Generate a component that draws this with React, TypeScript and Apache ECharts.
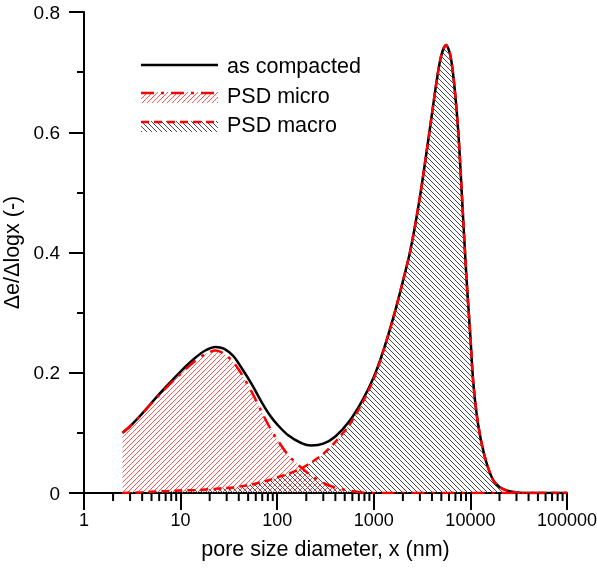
import React, { useEffect, useRef } from "react";
import * as echarts from "echarts";

// pore size diameter (nm)
const PORE_X = [2.5, 3, 4, 5, 7, 10, 14, 18, 23, 28, 35, 42, 55, 68, 85, 100, 130, 178, 226, 300, 400, 550, 750, 1000, 1250, 1600, 2000, 2400, 3000, 3800, 4500, 5000, 5600, 6200, 6800, 7500, 8200, 8800, 9300, 10000, 10700, 12000, 14000, 17000, 20000, 24000, 30000, 40000, 60000, 100000];

const AS_COMPACTED = [
  0.100, 0.111, 0.132, 0.150, 0.176,
  0.202, 0.224, 0.237, 0.243, 0.240,
  0.228, 0.210, 0.180, 0.153, 0.128,
  0.114, 0.096, 0.083, 0.079, 0.082,
  0.094, 0.118, 0.152, 0.193, 0.236,
  0.293, 0.352, 0.405, 0.492, 0.605,
  0.688, 0.728, 0.745, 0.728, 0.680,
  0.600, 0.490, 0.400, 0.335, 0.260,
  0.185, 0.115, 0.062, 0.023, 0.010,
  0.004, 0.001, 0, 0, 0,
];

const PSD_MICRO = [
  0.100, 0.111, 0.132, 0.149, 0.174,
  0.198, 0.219, 0.231, 0.237, 0.232,
  0.218, 0.200, 0.167, 0.137, 0.107,
  0.089, 0.063, 0.042, 0.029, 0.017,
  0.009, 0.004, 0.001, 0, 0,
  0, 0, 0, 0, 0,
  0, 0, 0, 0, 0,
  0, 0, 0, 0, 0,
  0, 0, 0, 0, 0,
  0, 0, 0, 0, 0,
];

const PSD_MACRO = [
  0, 0.0005, 0.001, 0.002, 0.003,
  0.004, 0.005, 0.006, 0.007, 0.008,
  0.009, 0.011, 0.014, 0.018, 0.022,
  0.026, 0.032, 0.041, 0.051, 0.065,
  0.085, 0.112, 0.148, 0.190, 0.235,
  0.293, 0.352, 0.405, 0.492, 0.605,
  0.688, 0.728, 0.745, 0.728, 0.680,
  0.600, 0.490, 0.400, 0.335, 0.260,
  0.185, 0.115, 0.062, 0.023, 0.010,
  0.004, 0.001, 0, 0, 0,
];

const X_DECADES = [1, 10, 100, 1000, 10000];
const MINOR_MULT = [2, 3, 4, 5, 6, 7, 8, 9];

const FONT = "'Liberation Sans', Arial, sans-serif";

function hatch(color: string, dir: "/" | "\\") {
  const n = 5;
  const c = document.createElement("canvas");
  c.width = n;
  c.height = n;
  const ctx = c.getContext("2d")!;
  ctx.fillStyle = color;
  for (let i = 0; i < n; i++) {
    ctx.fillRect(i, dir === "/" ? n - 1 - i : i, 1, 1);
  }
  return c;
}

export default function App() {
  const ref = useRef<HTMLDivElement>(null);
  useEffect(() => {
    if (!ref.current) return;
    const chart = echarts.init(ref.current, undefined, { renderer: "svg" });
    const redPat = { image: hatch("#ff5a5a", "/"), repeat: "repeat" };
    const grayPat = { image: hatch("#4a4a4a", "\\"), repeat: "repeat" };
    const pairs = (ys: number[]) => PORE_X.map((x, i) => [x, ys[i]]);
    const minor: number[][] = [];
    X_DECADES.forEach((d) => MINOR_MULT.forEach((m) => minor.push([d * m, 0])));

    const microDash = [13, 7, 3, 7];
    const macroDash = [8, 5];
    const SM = 0.3;

    chart.setOption({
      animation: false,
      grid: { left: 84, right: 30, top: 12, bottom: 80, containLabel: false, outerBoundsMode: "none" },
      xAxis: {
        type: "log",
        logBase: 10,
        min: 1,
        max: 100000,
        name: "pore size diameter, x (nm)",
        nameLocation: "middle",
        nameGap: 45,
        nameTextStyle: { fontSize: 21.5, fontFamily: FONT, color: "#000" },
        axisLine: { show: true, lineStyle: { color: "#000", width: 2 } },
        axisTick: { show: true, inside: false, length: 17, lineStyle: { color: "#000", width: 2 } },
        axisLabel: {
          margin: 18,
          fontSize: 18,
          fontFamily: FONT,
          color: "#000",
          formatter: (v: number) => String(Math.round(v)),
        },
        splitLine: { show: false },
        minorTick: { show: false },
      },
      yAxis: {
        type: "value",
        min: 0,
        max: 0.8,
        interval: 0.2,
        name: "\u0394e/\u0394logx (-)",
        nameLocation: "middle",
        nameGap: 58,
        nameRotate: 90,
        nameTextStyle: { fontSize: 21.5, fontFamily: FONT, color: "#000" },
        axisLine: { show: true, lineStyle: { color: "#000", width: 2 } },
        axisTick: { show: true, inside: false, length: 15, lineStyle: { color: "#000", width: 2 } },
        minorTick: { show: true, splitNumber: 2, length: 7, lineStyle: { color: "#000", width: 2 } },
        axisLabel: { margin: 24, fontSize: 19, fontFamily: FONT, color: "#000" },
        splitLine: { show: false },
      },
      series: [
        {
          type: "line",
          data: pairs(PSD_MICRO),
          smooth: SM,
          symbol: "none",
          lineStyle: { width: 0, opacity: 0 },
          areaStyle: { color: redPat, opacity: 1 },
          silent: true,
        },
        {
          type: "line",
          data: pairs(PSD_MACRO),
          smooth: SM,
          symbol: "none",
          lineStyle: { width: 0, opacity: 0 },
          areaStyle: { color: grayPat, opacity: 1 },
          silent: true,
        },
        {
          type: "line",
          name: "as compacted",
          data: pairs(AS_COMPACTED),
          smooth: SM,
          symbol: "none",
          lineStyle: { color: "#000", width: 2.5 },
          silent: true,
        },
        {
          type: "line",
          name: "PSD micro",
          data: pairs(PSD_MICRO),
          smooth: SM,
          symbol: "none",
          lineStyle: { color: "#ff0000", width: 2.5, type: microDash },
          silent: true,
        },
        {
          type: "line",
          name: "PSD macro",
          data: pairs(PSD_MACRO),
          smooth: SM,
          symbol: "none",
          lineStyle: { color: "#ff0000", width: 2.5, type: macroDash },
          silent: true,
        },
        {
          type: "custom",
          data: minor,
          silent: true,
          clip: false,
          z: 10,
          renderItem: (_p: any, api: any) => {
            const pt = api.coord([api.value(0), 0]);
            return {
              type: "line",
              shape: { x1: pt[0], y1: pt[1], x2: pt[0], y2: pt[1] + 8 },
              style: { stroke: "#000", lineWidth: 2 },
            };
          },
        },
      ],
      graphic: [
        { type: "line", shape: { x1: 141, y1: 65, x2: 218, y2: 65 }, style: { stroke: "#000", lineWidth: 2.5 } },
        { type: "text", x: 227, y: 66, style: { text: "as compacted", fontSize: 21.5, fontFamily: FONT, fill: "#000", verticalAlign: "middle", align: "left" } },
        { type: "rect", shape: { x: 141, y: 92, width: 77, height: 11 }, style: { fill: redPat } },
        { type: "line", shape: { x1: 141, y1: 93, x2: 218, y2: 93 }, style: { stroke: "#ff0000", lineWidth: 2.5, lineDash: microDash } },
        { type: "text", x: 227, y: 96, style: { text: "PSD micro", fontSize: 21.5, fontFamily: FONT, fill: "#000", verticalAlign: "middle", align: "left" } },
        { type: "rect", shape: { x: 141, y: 121, width: 77, height: 11 }, style: { fill: grayPat } },
        { type: "line", shape: { x1: 141, y1: 122, x2: 218, y2: 122 }, style: { stroke: "#ff0000", lineWidth: 2.5, lineDash: macroDash } },
        { type: "text", x: 227, y: 125, style: { text: "PSD macro", fontSize: 21.5, fontFamily: FONT, fill: "#000", verticalAlign: "middle", align: "left" } },
      ],
    });
    return () => chart.dispose();
  }, []);
  return <div ref={ref} style={{ position: "fixed", left: 0, top: 0, width: 597, height: 573 }} />;
}
